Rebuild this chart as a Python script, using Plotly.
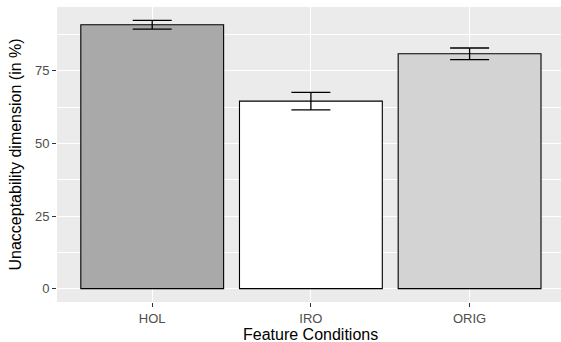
import plotly.graph_objects as go

categories = ["HOL", "IRO", "ORIG"]
means = [90.9, 64.6, 80.9]
errors = [1.5, 3.0, 2.0]
fill_colors = ["#A9A9A9", "#FFFFFF", "#D3D3D3"]
y_ticks = [0, 25, 50, 75]

FONT = "Liberation Sans, Arial, Helvetica, sans-serif"

fig = go.Figure()
fig.add_trace(go.Bar(
    x=categories,
    y=means,
    width=0.9,
    marker=dict(color=fill_colors, line=dict(color="black", width=1.1)),
    error_y=dict(type="data", array=errors, visible=True,
                 color="black", thickness=1.3, width=19.5),
    showlegend=False,
    hoverinfo="skip",
))

ymax = max(m + e for m, e in zip(means, errors))
pad = 0.05 * ymax

fig.update_layout(
    width=561, height=342,
    margin=dict(l=57, r=0, t=7, b=40, pad=0),
    paper_bgcolor="white",
    plot_bgcolor="#EBEBEB",
    font=dict(family=FONT, size=13, color="#4D4D4D"),
    xaxis=dict(
        type="category",
        categoryorder="array", categoryarray=categories,
        range=[-0.6, 2.576],
        showgrid=True, gridcolor="white", gridwidth=1.1,
        zeroline=False, showline=False,
        ticks="outside", ticklen=4, tickcolor="#333333", tickwidth=1.1,
        tickfont=dict(family=FONT, size=13, color="#4D4D4D"),
        fixedrange=True,
    ),
    yaxis=dict(
        range=[-pad, ymax + pad],
        tickmode="array", tickvals=y_ticks, ticktext=[str(v) for v in y_ticks],
        showgrid=True, gridcolor="white", gridwidth=1.1,
        minor=dict(tickmode="linear", tick0=12.5, dtick=25, showgrid=True,
                   gridcolor="white", gridwidth=0.55, ticks=""),
        zeroline=False, showline=False,
        ticks="outside", ticklen=4, tickcolor="#333333", tickwidth=1.1,
        tickfont=dict(family=FONT, size=13, color="#4D4D4D"),
        fixedrange=True,
    ),
    annotations=[
        dict(text="Feature Conditions", xref="paper", yref="paper",
             x=0.503, y=-0.11, xanchor="center", yanchor="middle",
             showarrow=False, font=dict(family=FONT, size=16, color="black")),
        dict(text="Unacceptability dimension (in %)", xref="paper", yref="paper",
             x=(15 - 57) / 504, y=0.5, xanchor="center", yanchor="middle",
             textangle=-90, showarrow=False,
             font=dict(family=FONT, size=16, color="black")),
    ],
)

fig.write_html("out.html", config={"displayModeBar": False})
